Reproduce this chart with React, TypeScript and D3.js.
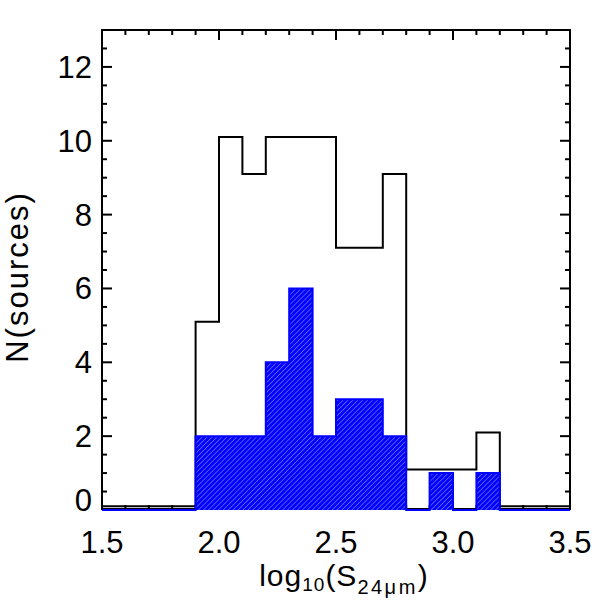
import React, { useEffect, useRef } from "react";
import * as d3 from "d3";

// Histogram bins (left edges) in log10 flux
const binStarts = [
  1.5, 1.6, 1.7, 1.8, 1.9, 2.0, 2.1, 2.2, 2.3, 2.4,
  2.5, 2.6, 2.7, 2.8, 2.9, 3.0, 3.1, 3.2, 3.3, 3.4,
];
const binWidth = 0.1;
// all sources
const allCounts = [0, 0, 0, 0, 5, 10, 9, 10, 10, 10, 7, 7, 9, 1, 1, 1, 2, 0, 0, 0];
// subset (hatched blue)
const subCounts = [0, 0, 0, 0, 2, 2, 2, 4, 6, 2, 3, 3, 2, 0, 1, 0, 1, 0, 0, 0];

const xMajor = [1.5, 2.0, 2.5, 3.0, 3.5];
const xMinor = [
  1.6, 1.7, 1.8, 1.9, 2.1, 2.2, 2.3, 2.4, 2.6, 2.7, 2.8, 2.9,
  3.1, 3.2, 3.3, 3.4,
];
const yMajor = [0, 2, 4, 6, 8, 10, 12];
const yMinor = [0.5, 1, 1.5, 2.5, 3, 3.5, 4.5, 5, 5.5, 6.5, 7, 7.5, 8.5, 9, 9.5, 10.5, 11, 11.5, 12.5];

const FONT = "'Liberation Sans', Arial, Helvetica, sans-serif";

const App = () => {
  const svgRef = useRef<SVGSVGElement>(null);

  useEffect(() => {
    const width = 600;
    const height = 600;
    const left = 102, right = 570, top = 30, bottom = 510;

    const svg = d3.select(svgRef.current).attr("width", width).attr("height", height);
    svg.selectAll("*").remove();
    svg.append("rect").attr("width", width).attr("height", height).attr("fill", "white");

    const x = d3.scaleLinear().domain([1.5, 3.5]).range([left, right]);
    const y = d3.scaleLinear().domain([0, 13]).range([bottom, top]);

    // hatch pattern for the subset
    const defs = svg.append("defs");
    const pat = defs
      .append("pattern")
      .attr("id", "hatch")
      .attr("patternUnits", "userSpaceOnUse")
      .attr("width", 3.5)
      .attr("height", 3.5)
      .attr("patternTransform", "rotate(45)");
    pat.append("rect").attr("width", 3.5).attr("height", 3.5).attr("fill", "#0000ff");
    pat
      .append("line")
      .attr("x1", 0).attr("y1", 0).attr("x2", 0).attr("y2", 3.5)
      .attr("stroke", "#8a8aff")
      .attr("stroke-width", 1.2);

    // frame
    svg
      .append("rect")
      .attr("x", left)
      .attr("y", top)
      .attr("width", right - left)
      .attr("height", bottom - 1 - top)
      .attr("fill", "none")
      .attr("stroke", "black")
      .attr("stroke-width", 2);

    // ticks on all four sides
    const tick = (x1: number, y1: number, x2: number, y2: number) =>
      svg
        .append("line")
        .attr("x1", x1).attr("y1", y1).attr("x2", x2).attr("y2", y2)
        .attr("stroke", "black")
        .attr("stroke-width", 2);

    xMajor.forEach((v) => {
      tick(x(v), bottom, x(v), bottom - 10);
      tick(x(v), top, x(v), top + 10);
    });
    xMinor.forEach((v) => {
      tick(x(v), bottom, x(v), bottom - 5);
      tick(x(v), top, x(v), top + 5);
    });
    yMajor.forEach((v) => {
      tick(left, y(v), left + 10, y(v));
      tick(right, y(v), right - 10, y(v));
    });
    yMinor.forEach((v) => {
      tick(left, y(v), left + 5, y(v));
      tick(right, y(v), right - 5, y(v));
    });

    const steps = (counts: number[], offset: number) => {
      const pts = binStarts.map((b, i) => [b, counts[i] + offset] as [number, number]);
      pts.push([binStarts[binStarts.length - 1] + binWidth, counts[counts.length - 1] + offset]);
      return pts;
    };

    // all sources, lifted slightly so it stays visible above the subset
    const line = d3
      .line<[number, number]>()
      .x((d) => x(d[0]))
      .y((d) => y(d[1]))
      .curve(d3.curveStepAfter);

    svg
      .append("path")
      .attr("d", line(steps(allCounts, 0.1)))
      .attr("fill", "none")
      .attr("stroke", "black")
      .attr("stroke-width", 2);

    // subset: hatched fill plus outline
    const area = d3
      .area<[number, number]>()
      .x((d) => x(d[0]))
      .y0(y(0))
      .y1((d) => y(d[1]))
      .curve(d3.curveStepAfter);

    svg
      .append("path")
      .attr("d", area(steps(subCounts, 0)))
      .attr("fill", "url(#hatch)");

    svg
      .append("path")
      .attr("d", line(steps(subCounts, 0)))
      .attr("fill", "none")
      .attr("stroke", "#0000ff")
      .attr("stroke-width", 2);

    // tick labels
    svg
      .append("g")
      .selectAll("text")
      .data(xMajor)
      .enter()
      .append("text")
      .attr("x", (d) => x(d))
      .attr("y", 553)
      .attr("text-anchor", "middle")
      .style("font-family", FONT)
      .style("font-size", "31px")
      .text((d) => d.toFixed(1));

    svg
      .append("g")
      .selectAll("text")
      .data(yMajor)
      .enter()
      .append("text")
      .attr("x", 92)
      .attr("y", (d) => Math.min(y(d), 500) + 11)
      .attr("text-anchor", "end")
      .style("font-family", FONT)
      .style("font-size", "31px")
      .text((d) => d);

    // axis titles
    const xt = svg
      .append("text")
      .attr("x", 344)
      .attr("y", 586)
      .attr("text-anchor", "middle")
      .style("font-family", FONT)
      .style("font-size", "30px")
      .style("letter-spacing", "1px");
    xt.append("tspan").text("log");
    xt.append("tspan").attr("dy", 5).style("font-size", "19px").text("10");
    xt.append("tspan").attr("dy", -5).text("(S");
    xt.append("tspan").attr("dy", 8).style("font-size", "20px").style("letter-spacing", "2.5px").text("24μm");
    xt.append("tspan").attr("dy", -8).text(")");

    svg
      .append("text")
      .attr("transform", "translate(28,277) rotate(-90)")
      .attr("text-anchor", "middle")
      .style("font-family", FONT)
      .style("font-size", "31px")
      .style("letter-spacing", "2px")
      .text("N(sources)");
  }, []);

  return (
    <div style={{ position: "absolute", left: 0, top: 0 }}>
      <svg ref={svgRef} style={{ display: "block" }} />
    </div>
  );
};

export default App;
